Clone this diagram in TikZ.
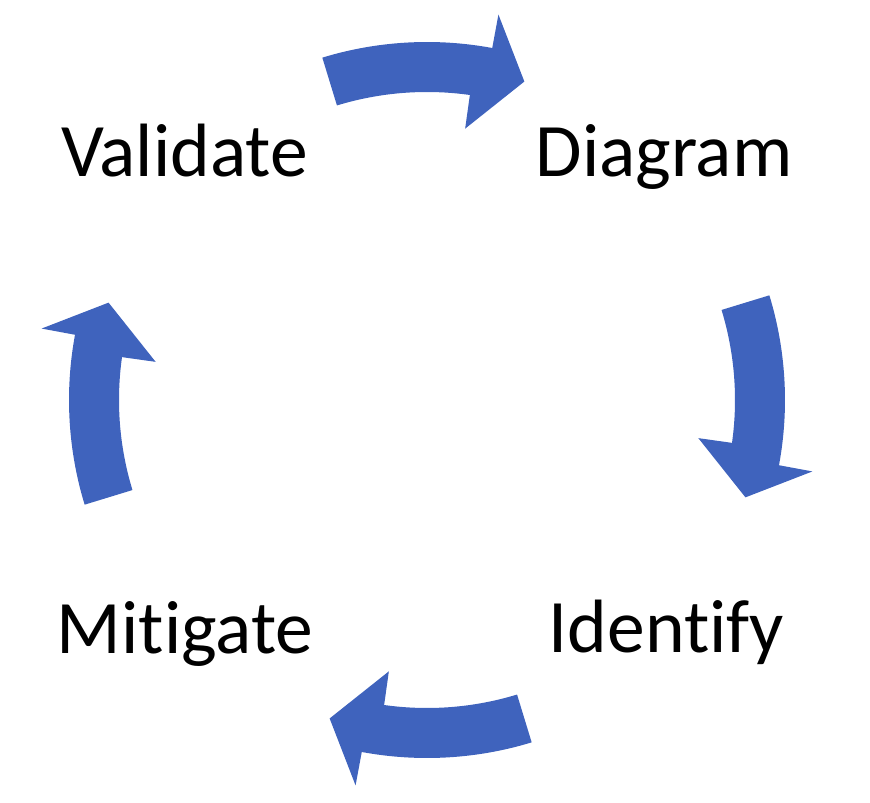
\documentclass[tikz,border=0pt]{standalone}
\usepackage{fontspec}
\setmainfont[Ligatures=NoCommon]{Carlito}
\definecolor{arrowblue}{RGB}{63,99,189}
% curved block arrow on the cycle, #1 = angle of its tail
\newcommand{\cyclearrow}[1]{%
\fill[arrowblue] (#1:7.16) arc[start angle=#1, end angle=#1-27.5, radius=7.16]
  -- (#1-27.5:7.84) -- (#1-34:6.66) -- (#1-25:5.48) -- (#1-25:6.16)
  arc[start angle=#1-25, end angle=#1, radius=6.16] -- cycle;}
\begin{document}
\begin{tikzpicture}[every node/.style={inner sep=0pt, anchor=base, font=\fontsize{43}{51}\selectfont}]
\useasboundingbox (0, 0) rectangle (17.4, 16.04);

\node (validate) at (3.69, 12.5) {Validate};
\node (diagram) at (13.28, 12.5) {Diagram};
\node (identify) at (13.33, 3.0) {Identify};
\node (mitigate) at (3.70, 2.98) {Mitigate};

\begin{scope}[shift={(8.54, 8.04)}]
\cyclearrow{107}
\cyclearrow{17}
\cyclearrow{-73}
\cyclearrow{-163}
\end{scope}

\end{tikzpicture}
\end{document}
